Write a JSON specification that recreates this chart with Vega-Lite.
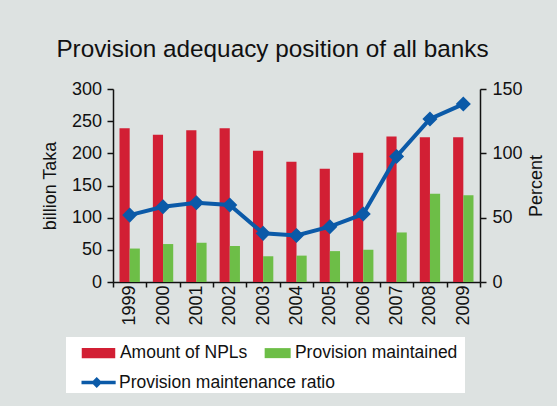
{
  "$schema": "https://vega.github.io/schema/vega-lite/v6.json",
  "width": 367,
  "height": 193,
  "autosize": {"type": "none"},
  "padding": {"left": 113, "top": 89, "right": 77, "bottom": 124},
  "background": "#dde2e1",
  "config": {
    "view": {"stroke": null},
    "font": "Liberation Sans",
    "axis": {
      "labelFont": "Liberation Sans",
      "titleFont": "Liberation Sans",
      "labelFontSize": 18,
      "titleFontSize": 18,
      "titleFontWeight": "normal",
      "labelColor": "#111111",
      "titleColor": "#111111",
      "domainColor": "#111111",
      "tickColor": "#111111",
      "domainWidth": 1.5,
      "tickWidth": 1.5,
      "grid": false,
      "labelFlush": false
    },
    "legend": {
      "labelFont": "Liberation Sans",
      "labelFontSize": 17.5,
      "labelColor": "#111111",
      "labelLimit": 0
    }
  },
  "title": {
    "text": "Provision adequacy position of all banks",
    "font": "Liberation Sans",
    "fontSize": 24.3,
    "fontWeight": "normal",
    "color": "#111111",
    "anchor": "middle",
    "frame": "group",
    "dx": -24,
    "baseline": "alphabetic",
    "offset": -1.5
  },
  "datasets": {
    "bars": [
      {"year": "1999", "series": "Amount of NPLs", "value": 239},
      {"year": "2000", "series": "Amount of NPLs", "value": 229},
      {"year": "2001", "series": "Amount of NPLs", "value": 236},
      {"year": "2002", "series": "Amount of NPLs", "value": 239},
      {"year": "2003", "series": "Amount of NPLs", "value": 204},
      {"year": "2004", "series": "Amount of NPLs", "value": 187},
      {"year": "2005", "series": "Amount of NPLs", "value": 176},
      {"year": "2006", "series": "Amount of NPLs", "value": 201},
      {"year": "2007", "series": "Amount of NPLs", "value": 226},
      {"year": "2008", "series": "Amount of NPLs", "value": 225},
      {"year": "2009", "series": "Amount of NPLs", "value": 225},
      {"year": "1999", "series": "Provision maintained", "value": 52},
      {"year": "2000", "series": "Provision maintained", "value": 59},
      {"year": "2001", "series": "Provision maintained", "value": 61},
      {"year": "2002", "series": "Provision maintained", "value": 56},
      {"year": "2003", "series": "Provision maintained", "value": 40},
      {"year": "2004", "series": "Provision maintained", "value": 41},
      {"year": "2005", "series": "Provision maintained", "value": 48},
      {"year": "2006", "series": "Provision maintained", "value": 50},
      {"year": "2007", "series": "Provision maintained", "value": 77},
      {"year": "2008", "series": "Provision maintained", "value": 137},
      {"year": "2009", "series": "Provision maintained", "value": 135}
    ],
    "ratio": [
      {"year": "1999", "series": "Provision maintenance ratio", "value": 52},
      {"year": "2000", "series": "Provision maintenance ratio", "value": 58.5},
      {"year": "2001", "series": "Provision maintenance ratio", "value": 61.6},
      {"year": "2002", "series": "Provision maintenance ratio", "value": 59.8},
      {"year": "2003", "series": "Provision maintenance ratio", "value": 37.8},
      {"year": "2004", "series": "Provision maintenance ratio", "value": 36.2},
      {"year": "2005", "series": "Provision maintenance ratio", "value": 43},
      {"year": "2006", "series": "Provision maintenance ratio", "value": 52.8},
      {"year": "2007", "series": "Provision maintenance ratio", "value": 97.6},
      {"year": "2008", "series": "Provision maintenance ratio", "value": 126.7},
      {"year": "2009", "series": "Provision maintenance ratio", "value": 138.3}
    ]
  },
  "layer": [
    {
      "data": {"name": "bars"},
      "mark": {"type": "bar"},
      "encoding": {
        "x": {
          "field": "year",
          "type": "ordinal",
          "scale": {"paddingInner": 0, "paddingOuter": 0},
          "axis": {
            "title": null,
            "labelAngle": -90,
            "labelAlign": "right",
            "labelBaseline": "middle",
            "tickBand": "extent",
            "tickSize": 5,
            "labelPadding": -2
          }
        },
        "xOffset": {
          "field": "series",
          "scale": {"domain": ["Amount of NPLs", "Provision maintained"], "paddingInner": 0, "paddingOuter": 0.64}
        },
        "y": {
          "field": "value",
          "type": "quantitative",
          "scale": {"domain": [0, 300]},
          "axis": {
            "orient": "left",
            "values": [0, 50, 100, 150, 200, 250, 300],
            "title": "billion Taka",
            "tickSize": 6,
            "labelPadding": 5.5,
            "titlePadding": 12,
            "encode": {"ticks": {"update": {"x": {"value": 6}}}}
          }
        },
        "color": {
          "field": "series",
          "type": "nominal",
          "scale": {
            "domain": ["Amount of NPLs", "Provision maintained"],
            "range": ["#d21f34", "#6dbe47"]
          },
          "legend": {
            "orient": "none",
            "legendX": -47,
            "legendY": 248,
            "title": " ",
            "titleOrient": "bottom",
            "titleFontSize": 10,
            "titlePadding": 14,
            "direction": "horizontal",
            "fillColor": "white",
            "padding": 7,
            "symbolSize": 289,
            "symbolStrokeWidth": 0,
            "labelOffset": 29.4,
            "columnPadding": -9,
            "encode": {
              "symbols": {
                "update": {
                  "shape": [
                    {"test": "datum.value === 'Provision maintained'", "value": "M0.93,-0.59H3.99V0.59H0.93Z"},
                    {"value": "M0,-0.59H3.94V0.59H0Z"}
                  ],
                  "strokeWidth": {"value": 0},
                  "opacity": {"value": 1}
                }
              }
            }
          }
        }
      }
    },
    {
      "data": {"name": "ratio"},
      "mark": {"type": "line", "strokeWidth": 4, "color": "#0b5aa8", "point": {"shape": "diamond", "size": 150, "filled": true, "color": "#0b5aa8"}},
      "encoding": {
        "x": {"field": "year", "type": "ordinal"},
        "y": {
          "field": "value",
          "type": "quantitative",
          "scale": {"domain": [0, 150]},
          "axis": {
            "orient": "right",
            "values": [0, 50, 100, 150],
            "title": "Percent",
            "titleAngle": -90,
            "titleBaseline": "top",
            "tickSize": 6,
            "labelPadding": 6,
            "titlePadding": 5.5,
            "encode": {"ticks": {"update": {"x": {"value": -6}}}}
          }
        },
        "stroke": {
          "field": "series",
          "type": "nominal",
          "scale": {"range": ["#0b5aa8"]},
          "legend": {
            "orient": "none",
            "legendX": -42,
            "legendY": 283,
            "title": null,
            "padding": 0,
            "symbolSize": 289,
            "symbolStrokeWidth": 0,
            "labelOffset": 27,
            "encode": {
              "symbols": {
                "update": {
                  "shape": {"value": "M0,0H4.02M1.44,0L1.79,-0.35L2.14,0L1.79,0.35Z"},
                  "fill": {"value": "#0b5aa8"},
                  "stroke": {"value": "#0b5aa8"},
                  "strokeWidth": {"value": 3.5},
                  "opacity": {"value": 1}
                }
              }
            }
          }
        }
      }
    }
  ],
  "resolve": {"scale": {"y": "independent"}}
}
